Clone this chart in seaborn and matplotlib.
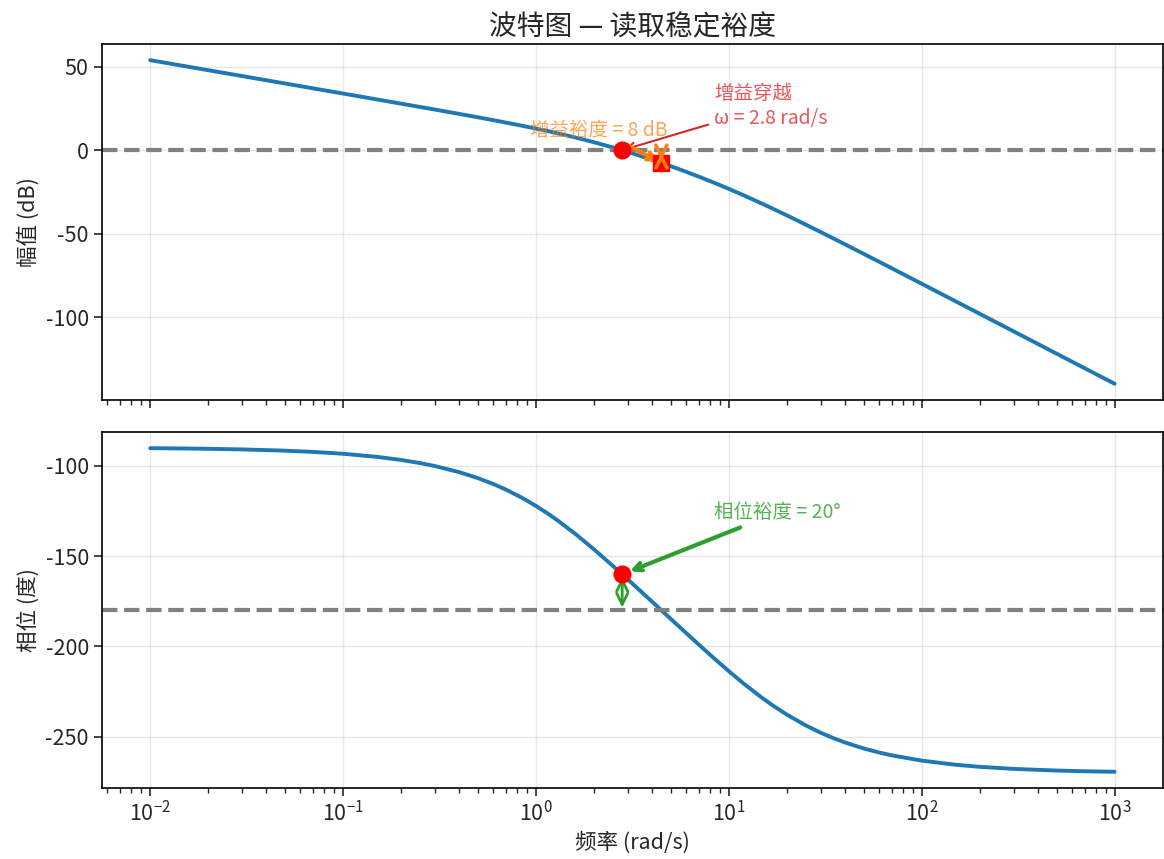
import numpy as np
import pandas as pd
import matplotlib
matplotlib.use("Agg")
import matplotlib.pyplot as plt
import seaborn as sns

# Open-loop frequency response samples
freq = [0.01, 0.015, 0.02, 0.03, 0.05, 0.07, 0.1, 0.15, 0.2, 0.25, 0.3, 0.4, 0.5,
        0.6, 0.7, 0.85, 1, 1.15, 1.3, 1.6, 2, 2.5, 2.8, 3.2, 4, 4.47, 5, 6, 7,
        8.5, 10, 12, 15, 17, 20, 25, 30, 35, 40, 50, 60, 70, 100, 150, 200, 300,
        500, 700, 1000]
mag_db = [53.98, 50.46, 47.96, 44.44, 40.00, 37.07, 33.97, 30.43, 27.91, 25.95,
          24.34, 21.76, 19.73, 18.03, 16.55, 14.64, 12.97, 11.47, 10.10, 7.64,
          4.78, 1.67, 0.00, -2.06, -5.70, -7.60, -9.57, -12.92, -15.88, -19.77,
          -23.18, -27.16, -32.24, -35.18, -39.08, -44.55, -49.10, -53.00, -56.40,
          -62.12, -66.81, -70.80, -80.05, -90.59, -98.07, -108.63, -121.94,
          -130.71, -140.00]
phase_deg = [-90.34, -90.52, -90.69, -91.03, -91.72, -92.41, -93.43, -95.15,
             -96.86, -98.56, -100.25, -103.60, -106.90, -110.13, -113.29, -117.88,
             -122.28, -126.46, -130.43, -137.75, -146.31, -155.38, -160.10,
             -165.74, -175.24, -179.98, -184.76, -192.53, -199.05, -207.12,
             -213.69, -220.73, -228.72, -232.82, -237.72, -243.63, -247.75,
             -250.79, -253.10, -256.40, -258.63, -260.23, -263.14, -265.42,
             -266.57, -267.71, -268.63, -269.02, -269.31]

# Stability margins
w_gc = 2.8        # gain crossover (rad/s)
w_pc = 4.47       # phase crossover (rad/s)
mag_at_pc = -7.6  # dB at phase crossover
gain_margin = 8
phase_at_gc = -160.1
phase_margin = 20

df = pd.DataFrame({"freq": freq, "mag": mag_db, "phase": phase_deg})

sns.set_style("ticks")
plt.rcParams["font.family"] = ["Noto Sans CJK SC", "DejaVu Sans"]
plt.rcParams["font.weight"] = "light"
plt.rcParams["axes.unicode_minus"] = False
plt.rcParams["mathtext.fontset"] = "custom"
plt.rcParams["mathtext.rm"] = "Noto Sans CJK SC:light"
plt.rcParams["mathtext.it"] = "Noto Sans CJK SC:light"

fig, (ax1, ax2) = plt.subplots(2, 1, figsize=(11.64, 8.59), dpi=100, sharex=True)
fig.subplots_adjust(left=0.0876, right=0.999, top=0.9488, bottom=0.0827, hspace=0.09)

line_kw = dict(color="#1f77b4", linewidth=2.8)
dash_kw = dict(color="gray", linestyle="--", linewidth=3)

# Magnitude
sns.lineplot(data=df, x="freq", y="mag", ax=ax1, **line_kw)
ax1.axhline(0, **dash_kw)
ax1.plot([w_gc], [0], "o", color="red", markersize=12, zorder=5)
ax1.plot([w_pc], [mag_at_pc], "s", color="red", markersize=11, zorder=5)
ax1.annotate("", xy=(w_pc, mag_at_pc), xytext=(w_pc, 0),
             arrowprops=dict(arrowstyle="<->", color="#ff7f0e", lw=2.5,
                             mutation_scale=20), zorder=6)
ax1.annotate(f"增益裕度 = {gain_margin} dB", xy=(w_pc, mag_at_pc), xytext=(2.11, 12.0),
             ha="center", va="center", fontsize=14, color="#ff7f0e", alpha=0.7,
             arrowprops=dict(arrowstyle="->", color="#ff7f0e", lw=3), zorder=4)
ax1.annotate(f"增益穿越\nω = {w_gc} rad/s", xy=(w_gc, 0), xytext=(8.4, 13),
             ha="left", va="bottom", fontsize=14, color="#e8383d", alpha=0.85,
             arrowprops=dict(arrowstyle="->", color="#d62728", lw=1.5))
ax1.set_xscale("log")
ax1.set_xlabel("")
ax1.set_ylabel("幅值 (dB)", fontsize=15.5)
ax1.set_title("波特图 — 读取稳定裕度", fontsize=20)
ax1.set_yticks([50, 0, -50, -100])

# Phase
sns.lineplot(data=df, x="freq", y="phase", ax=ax2, **line_kw)
ax2.axhline(-180, **dash_kw)
ax2.plot([w_gc], [phase_at_gc], "o", color="red", markersize=12, zorder=5)
ax2.annotate("", xy=(w_gc, -180), xytext=(w_gc, phase_at_gc),
             arrowprops=dict(arrowstyle="<->", color="#2ca02c", lw=2,
                             mutation_scale=20), zorder=4)
ax2.annotate(f"相位裕度 = {phase_margin}°", xy=(w_gc, phase_at_gc), xytext=(8.4, -126),
             ha="left", va="center", fontsize=14, color="#2ca02c", alpha=0.8,
             arrowprops=dict(arrowstyle="->", color="#2ca02c", lw=3, shrinkB=6))
ax2.set_xscale("log")
ax2.set_xlabel("频率 (rad/s)", fontsize=15.5)
ax2.set_ylabel("相位 (度)", fontsize=15.5)
ax2.set_yticks([-100, -150, -200, -250])

for ax in (ax1, ax2):
    ax.grid(True, which="major", color="#b0b0b0", alpha=0.3, linewidth=1)
    ax.tick_params(axis="both", which="major", labelsize=15.5, length=6, width=1.2)
    ax.tick_params(axis="x", which="minor", length=3.5, width=1)
    for s in ax.spines.values():
        s.set_linewidth(1.2)
        s.set_color("black")

fig.savefig("out.png", dpi=100)
